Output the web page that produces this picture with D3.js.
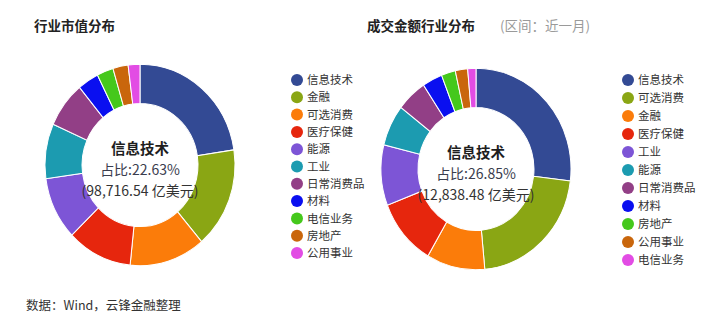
<!DOCTYPE html>
<html>
<head>
<meta charset="utf-8">
<script src="https://cdn.jsdelivr.net/npm/d3@7"></script>
<style>
  body { margin: 0; background: #fff; }
  svg { font-family: "Noto Sans CJK SC", "Microsoft YaHei", sans-serif; }
</style>
</head>
<body>
<div id="chart"></div>
<script>
// 行业市值分布 (share, %)
const mktCategories = ["信息技术", "金融", "可选消费", "医疗保健", "能源", "工业", "日常消费品", "材料", "电信业务", "房地产", "公用事业"];
const mktShares = [22.63, 16.2, 12.9, 11.1, 10.1, 8.8, 7.4, 3.6, 2.8, 2.6, 2.0];
const mktTopAmount = 98716.54;

// 成交金额行业分布 (share, %)
const volCategories = ["信息技术", "可选消费", "金融", "医疗保健", "工业", "能源", "日常消费品", "材料", "房地产", "公用事业", "电信业务"];
const volShares = [26.85, 21.6, 9.9, 10.7, 9.7, 6.6, 5.2, 3.4, 2.4, 2.1, 1.4];
const volTopAmount = 12838.48;

const palette = ["#334a94", "#8aa614", "#fb7c0a", "#e6260d", "#7d55d6", "#1c9bb0",
                 "#923f86", "#0a0ff0", "#45c81c", "#c9660c", "#e24ce4"];

const width = 714, height = 320;

const svg = d3.select("#chart").append("svg")
    .attr("width", width)
    .attr("height", height);

const fmt = d3.format(",.2f");

function donut(cfg) {
    const pie = d3.pie().sort(null).value(d => d);
    const arc = d3.arc().innerRadius(58).outerRadius(95);

    const g = svg.append("g")
        .attr("transform", `translate(${cfg.cx},${cfg.cy}) scale(1,1.06)`);

    g.selectAll("path")
        .data(pie(cfg.shares))
        .enter().append("path")
        .attr("d", arc)
        .attr("fill", (d, i) => palette[i])
        .attr("stroke", "#fff")
        .attr("stroke-width", 1);

    // centre label
    const t = svg.append("g").attr("transform", `translate(${cfg.cx},${cfg.cy})`)
        .attr("text-anchor", "middle");
    t.append("text").attr("y", -11)
        .attr("font-size", 14.5).attr("font-weight", "bold").attr("fill", "#1e1e1e")
        .text(cfg.categories[0]);
    t.append("text").attr("y", 10)
        .attr("font-size", 14).attr("fill", "#3a3d4e")
        .text("占比:" + cfg.shares[0].toFixed(2) + "%");
    t.append("text").attr("y", 31)
        .attr("font-size", 14).attr("fill", "#333")
        .text("(" + fmt(cfg.amount) + " 亿美元)");

    // legend
    const y = d3.scalePoint().domain(cfg.categories).range([cfg.ly0, cfg.ly1]);
    const lg = svg.append("g");
    const item = lg.selectAll("g")
        .data(cfg.categories)
        .enter().append("g")
        .attr("transform", d => `translate(${cfg.lx},${y(d)})`);
    item.append("circle").attr("r", 6).attr("fill", (d, i) => palette[i]);
    item.append("text").attr("x", 10).attr("dy", "0.36em")
        .attr("font-size", 11.5).attr("fill", "#333")
        .text(d => d);
}

donut({ cx: 140, cy: 165, shares: mktShares, categories: mktCategories, amount: mktTopAmount,
        lx: 297, ly0: 80, ly1: 253 });
donut({ cx: 476, cy: 169, shares: volShares, categories: volCategories, amount: volTopAmount,
        lx: 628, ly0: 80, ly1: 260 });

// titles
svg.append("text").attr("x", 34).attr("y", 31)
    .attr("font-size", 13.5).attr("font-weight", "bold").attr("fill", "#222")
    .text("行业市值分布");
svg.append("text").attr("x", 367).attr("y", 31)
    .attr("font-size", 13.5).attr("font-weight", "bold").attr("fill", "#222")
    .text("成交金额行业分布");
svg.append("text").attr("x", 500).attr("y", 31)
    .attr("font-size", 13.5).attr("fill", "#9a9a9a")
    .text("(区间：近一月)");

// source note
svg.append("text").attr("x", 26).attr("y", 310)
    .attr("font-size", 12.5).attr("fill", "#333")
    .text("数据：Wind，云锋金融整理");
</script>
</body>
</html>
